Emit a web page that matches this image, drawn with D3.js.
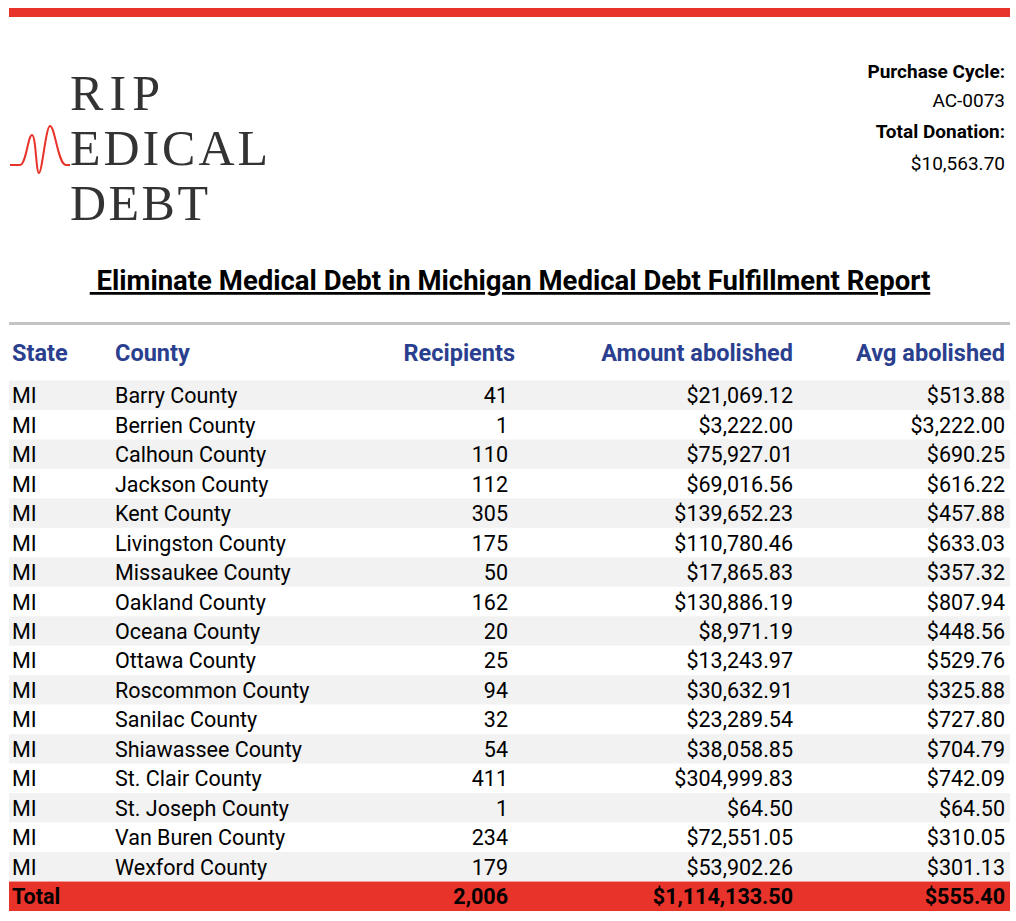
<!DOCTYPE html>
<html><head><meta charset="utf-8">
<script src="https://cdn.jsdelivr.net/npm/d3@7"></script>
<style>body{margin:0;background:#fff}</style>
</head><body>
<script>
// table data
var counties = ["Barry County","Berrien County","Calhoun County","Jackson County","Kent County","Livingston County","Missaukee County","Oakland County","Oceana County","Ottawa County","Roscommon County","Sanilac County","Shiawassee County","St. Clair County","St. Joseph County","Van Buren County","Wexford County"];
var recipients = [41,1,110,112,305,175,50,162,20,25,94,32,54,411,1,234,179];
var amounts = [21069.12,3222.00,75927.01,69016.56,139652.23,110780.46,17865.83,130886.19,8971.19,13243.97,30632.91,23289.54,38058.85,304999.83,64.50,72551.05,53902.26];
var avgs = [513.88,3222.00,690.25,616.22,457.88,633.03,357.32,807.94,448.56,529.76,325.88,727.80,704.79,742.09,64.50,310.05,301.13];
var totals = {recipients: 2006, amount: 1114133.50, avg: 555.40};
var headers = ["State","County","Recipients","Amount abolished","Avg abolished"];

var width = 1016, height = 921;
var money = d3.format("$,.2f"), num = d3.format(",");
var font = "Roboto, sans-serif";

var svg = d3.select("body").append("svg")
    .attr("width", width).attr("height", height);

// top red bar
svg.append("rect").attr("x", 9).attr("y", 8).attr("width", 1001).attr("height", 9).attr("fill", "#e8332a");

// logo
var logo = svg.append("g").attr("font-family", "'Liberation Serif', serif").attr("fill", "#333")
    .attr("font-size", 50);
logo.append("text").attr("x", 70).attr("y", 110).attr("textLength", 90).text("RIP");
logo.append("text").attr("x", 70).attr("y", 165).attr("textLength", 198).text("EDICAL");
logo.append("text").attr("x", 70).attr("y", 220).attr("textLength", 138).text("DEBT");
svg.append("path")
    .attr("d", "M10,165 L20,165 C26,165 28,135 32,135 C36,135 36,173 39,173 C42,173 46,126 50,126 C55,126 58,165 66,165 L70,165")
    .attr("fill", "none").attr("stroke", "#e8332a").attr("stroke-width", 2);

// purchase info
var info = svg.append("g").attr("font-family", font).attr("font-size", 19).attr("text-anchor", "end").attr("fill", "#000");
info.append("text").attr("x", 1005).attr("y", 78).attr("font-weight", "bold").text("Purchase Cycle:");
info.append("text").attr("x", 1005).attr("y", 107).text("AC-0073");
info.append("text").attr("x", 1005).attr("y", 138).attr("font-weight", "bold").text("Total Donation:");
info.append("text").attr("x", 1005).attr("y", 170).text("$10,563.70");

// title
svg.append("text").attr("x", 510).attr("y", 290).attr("text-anchor", "middle")
    .attr("font-family", font).attr("font-weight", "bold").attr("font-size", 27.5)
    .attr("text-decoration", "underline").text("\u00a0Eliminate Medical Debt in Michigan Medical Debt Fulfillment Report");

svg.append("rect").attr("x", 9).attr("y", 322).attr("width", 1001).attr("height", 3).attr("fill", "#c4c4c4");

// columns
var colX = [12, 115, 508, 793, 1005];
var headX = [12, 115, 515, 793, 1005];
var anchors = ["start","start","end","end","end"];

svg.append("g").selectAll("text").data(headers).enter().append("text")
    .attr("x", function(d, i) { return headX[i]; }).attr("y", 361)
    .attr("text-anchor", function(d, i) { return anchors[i]; })
    .attr("font-family", font).attr("font-weight", "bold").attr("font-size", 23.5)
    .attr("fill", "#2b3f8f").text(function(d) { return d; });

var rowIdx = d3.range(counties.length + 1);
var y = d3.scaleBand().domain(rowIdx).range([380.5, 911]).padding(0);

var rows = svg.append("g").selectAll("g").data(rowIdx).enter().append("g")
    .attr("transform", function(d) { return "translate(0," + y(d) + ")"; });

rows.append("rect").attr("x", 9).attr("width", 1001).attr("height", y.bandwidth())
    .attr("fill", function(d) { return d === counties.length ? "#e8332a" : (d % 2 === 0 ? "#f2f2f2" : "#fff"); });

rows.each(function(d) {
    var isTotal = d === counties.length;
    var cells = isTotal
        ? ["Total", "", num(totals.recipients), money(totals.amount), money(totals.avg)]
        : ["MI", counties[d], num(recipients[d]), money(amounts[d]), money(avgs[d])];
    d3.select(this).selectAll("text").data(cells).enter().append("text")
        .attr("x", function(c, i) { return colX[i]; })
        .attr("y", y.bandwidth() / 2 + 8)
        .attr("text-anchor", function(c, i) { return anchors[i]; })
        .attr("font-family", font).attr("font-size", 21.5)
        .attr("font-weight", isTotal ? "bold" : "normal")
        .attr("fill", "#000").text(function(c) { return c; });
});
</script>
</body></html>
